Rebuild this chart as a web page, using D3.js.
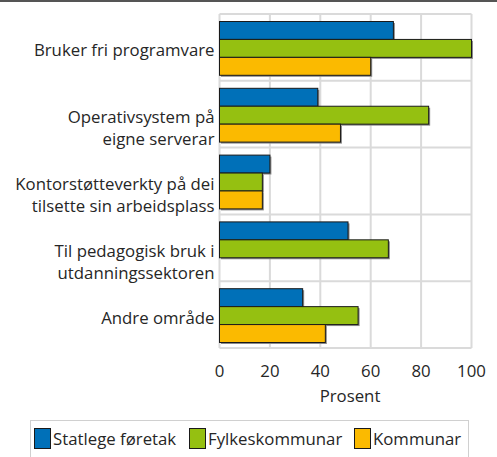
<!DOCTYPE html>
<html>
<head>
<meta charset="utf-8">
<script src="https://cdn.jsdelivr.net/npm/d3@7"></script>
<style>
  body { margin: 0; background: #fff; }
  text { font-family: 'Open Sans', sans-serif; fill: #262626; }
</style>
</head>
<body>
<div id="chart"></div>
<script>
const categories = [
  ['Bruker fri programvare'],
  ['Operativsystem på', 'eigne serverar'],
  ['Kontorstøtteverkty på dei', 'tilsette sin arbeidsplass'],
  ['Til pedagogisk bruk i', 'utdanningssektoren'],
  ['Andre område']
]
const seriesNames = ['Statlege føretak', 'Fylkeskommunar', 'Kommunar']
const statlege = [69, 39, 20, 51, 33]
const fylke = [100, 83, 17, 67, 55]
const kommunar = [60, 48, 17, null, 42]
const xTicks = [0, 20, 40, 60, 80, 100]
const colors = ['#0070b8', '#95c011', '#fbba00']

const width = 497
const height = 457
const margin = { top: 14, left: 219.5, right: 25.5, bottom: 109 }
const fontSize = 16.8

const svg = d3.select('#chart')
  .append('svg')
  .attr('width', width)
  .attr('height', height)

// top rule
svg.append('rect')
  .attr('x', 0).attr('y', 0)
  .attr('width', width).attr('height', 2)
  .attr('fill', '#555')

const x = d3.scaleLinear()
  .domain([0, 100])
  .range([margin.left, width - margin.right])

const y = d3.scaleBand()
  .domain(categories.map((d, i) => i))
  .range([margin.top, height - margin.bottom])

const inner = d3.scaleBand()
  .domain(seriesNames)
  .range([7.5, y.bandwidth() - 5.5])

const grid = svg.append('g')
  .attr('stroke', '#dadada')
  .attr('stroke-width', 2)

grid.selectAll('.v')
  .data(xTicks)
  .enter()
  .append('line')
  .attr('x1', d => x(d)).attr('x2', d => x(d))
  .attr('y1', margin.top).attr('y2', height - margin.bottom)

grid.selectAll('.h')
  .data(d3.range(categories.length + 1))
  .enter()
  .append('line')
  .attr('x1', x(0)).attr('x2', x(100))
  .attr('y1', d => margin.top + d * y.bandwidth())
  .attr('y2', d => margin.top + d * y.bandwidth())

const rows = categories.map((c, i) => ({
  i,
  values: [statlege[i], fylke[i], kommunar[i]]
}))

const group = svg.selectAll('.grp')
  .data(rows)
  .enter()
  .append('g')
  .attr('transform', d => 'translate(0,' + y(d.i) + ')')

const bars = group.selectAll('.bar')
  .data(d => d.values.map((v, k) => ({ v, k })).filter(d => d.v != null))
  .enter()

// little shadow to the right and below each bar
bars.append('rect')
  .attr('x', x(0) + 1.5)
  .attr('y', d => inner(seriesNames[d.k]) + 1.5)
  .attr('width', d => x(d.v) - x(0))
  .attr('height', inner.bandwidth())
  .attr('fill', '#8a8a8a')

bars.append('rect')
  .attr('x', x(0))
  .attr('y', d => inner(seriesNames[d.k]))
  .attr('width', d => x(d.v) - x(0))
  .attr('height', inner.bandwidth())
  .attr('fill', d => colors[d.k])
  .attr('stroke', '#1a1a1a')
  .attr('stroke-width', 1)

// category labels, first line sits on the band centre
const labels = svg.selectAll('.lab')
  .data(categories)
  .enter()
  .append('text')
  .attr('text-anchor', 'end')
  .attr('font-size', fontSize)
  .attr('transform', (d, i) => 'translate(' + (x(0) - 5) + ',' + (y(i) + y.bandwidth() / 2 + 9) + ')')

labels.selectAll('tspan')
  .data(d => d)
  .enter()
  .append('tspan')
  .attr('x', 0)
  .attr('dy', (d, j) => j === 0 ? 0 : 22)
  .text(d => d)

// x axis labels
svg.selectAll('.tick')
  .data(xTicks)
  .enter()
  .append('text')
  .attr('x', d => x(d))
  .attr('y', 377)
  .attr('text-anchor', 'middle')
  .attr('font-size', fontSize)
  .text(d => d)

svg.append('text')
  .attr('x', 350)
  .attr('y', 402)
  .attr('text-anchor', 'middle')
  .attr('font-size', fontSize)
  .text('Prosent')

// legend
svg.append('rect')
  .attr('x', 30.5).attr('y', 420.5)
  .attr('width', 438).attr('height', 50)
  .attr('fill', 'none')
  .attr('stroke', '#d0d0d0')

const legendX = [34, 189, 354]
const leg = svg.selectAll('.leg')
  .data(seriesNames)
  .enter()
  .append('g')
  .attr('transform', (d, i) => 'translate(' + legendX[i] + ',428)')

leg.append('rect')
  .attr('x', 0.5).attr('y', 0.5)
  .attr('width', 16).attr('height', 20)
  .attr('fill', (d, i) => colors[i])
  .attr('stroke', '#1a1a1a')

leg.append('text')
  .attr('x', 19)
  .attr('y', 17)
  .attr('font-size', fontSize)
  .text(d => d)
</script>
</body>
</html>
